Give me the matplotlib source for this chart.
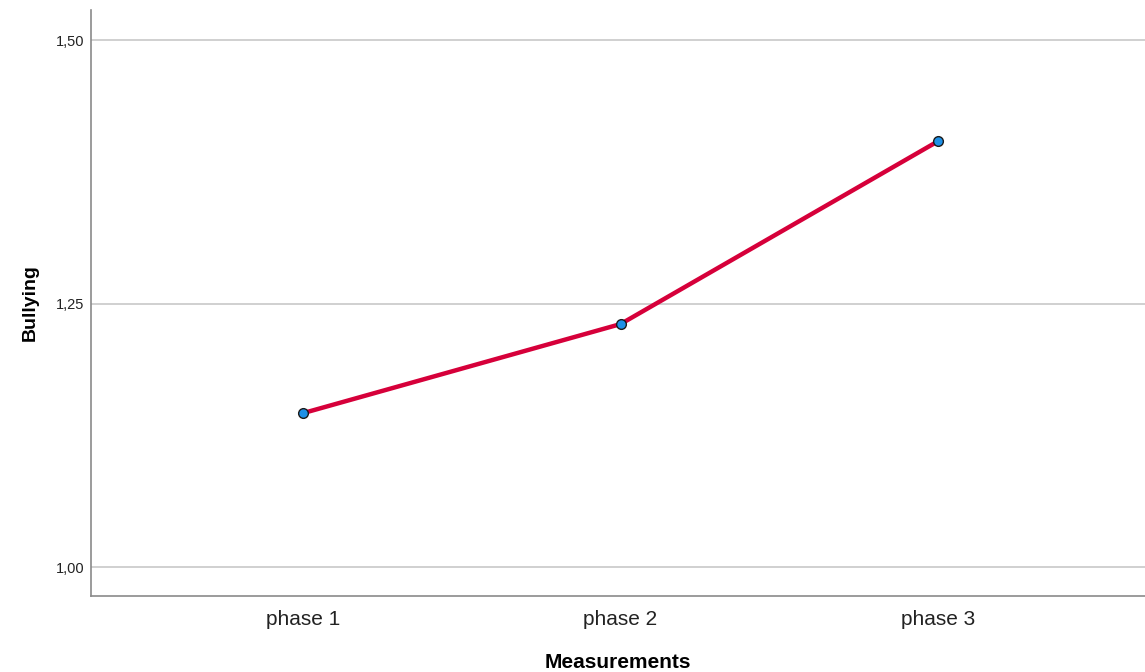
import matplotlib.pyplot as plt
from matplotlib.ticker import FuncFormatter

# Estimated marginal means
phases = ['phase 1', 'phase 2', 'phase 3']
bullying = [1.146, 1.2305, 1.404]

plt.rcParams['font.family'] = ['Liberation Sans', 'DejaVu Sans']

fig = plt.figure(figsize=(11.45, 6.72), dpi=100)
ax = fig.add_axes([91/1145, 76/672, 1054/1145, 586/672])

x = list(range(len(phases)))
ax.plot(x, bullying, color='#d6003a', linewidth=3.2, zorder=3)
ax.plot(x, bullying, linestyle='none', marker='o', markersize=7,
        markerfacecolor='#1e90e6', markeredgecolor='#1a1a1a',
        markeredgewidth=1.0, zorder=4)

ax.set_xlim(-0.668, 2.652)
ax.set_ylim(0.9725, 1.5285)
ax.set_xticks(x)
ax.set_xticklabels(phases, fontsize=15, color='#222222')
ax.set_yticks([1.0, 1.25, 1.5])
ax.yaxis.set_major_formatter(FuncFormatter(lambda v, p: f'{v:.2f}'.replace('.', ',')))
ax.tick_params(axis='y', labelsize=10.5, colors='#222222', length=0, pad=5)
ax.tick_params(axis='x', length=0, pad=10)

ax.grid(axis='y', color='#c8c8c8', linewidth=1.2)
ax.set_axisbelow(True)
for s in ['top', 'right']:
    ax.spines[s].set_visible(False)
for s in ['left', 'bottom']:
    ax.spines[s].set_color('#8a8a8a')
    ax.spines[s].set_linewidth(1.2)

ax.set_xlabel('Measurements', fontsize=15, fontweight='bold', labelpad=17)
ax.set_ylabel('Bullying', fontsize=14, fontweight='bold', labelpad=12)

fig.savefig('out.png', dpi=100)
